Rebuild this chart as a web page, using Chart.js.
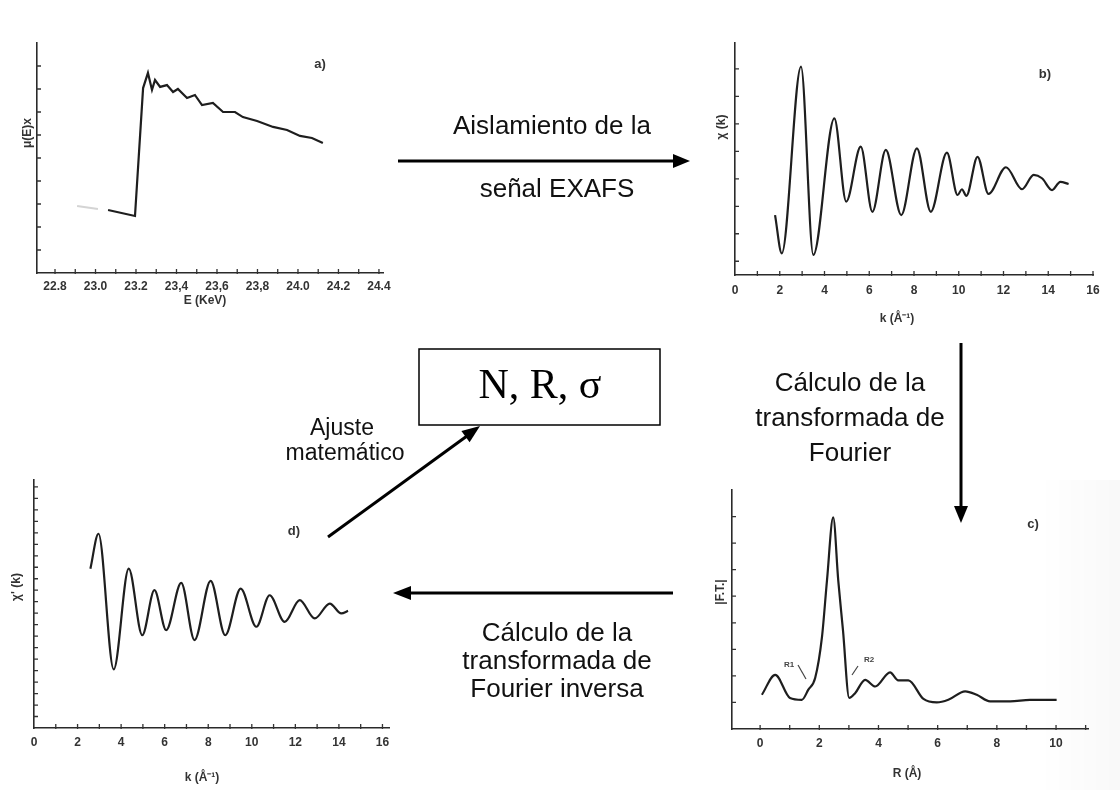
<!DOCTYPE html>
<html>
<head>
<meta charset="utf-8">
<script src="https://cdn.jsdelivr.net/npm/chart.js@4.4.0/dist/chart.umd.min.js"></script>
<style>
  body { margin: 0; background: #fff; }
  #page { position: relative; width: 1120px; height: 790px; overflow: hidden; background: #fff; }
  canvas.panel { position: absolute; filter: blur(0.4px); }
  svg { position: absolute; left: 0; top: 0; }
  .lbl { font-family: "Liberation Sans", Arial, sans-serif; font-size: 26px; fill: #111; }
  .small { font-size: 23px; }
  .box { font-family: "Liberation Serif", "Times New Roman", serif; font-size: 42px; fill: #000; }
  .axt { font-family: "Liberation Sans", Arial, sans-serif; font-size: 12px; font-weight: bold; fill: #333; }
  .tag { font-family: "Liberation Sans", Arial, sans-serif; font-size: 13px; font-weight: bold; fill: #333; }
  .mini { font-family: "Liberation Sans", Arial, sans-serif; font-size: 8px; font-weight: bold; fill: #444; }
</style>
</head>
<body>
<div id="page">
  <canvas id="chartA" class="panel" width="400" height="290" style="left:0;top:30px"></canvas>
  <canvas id="chartB" class="panel" width="420" height="300" style="left:700px;top:30px"></canvas>
  <canvas id="chartC" class="panel" width="420" height="300" style="left:700px;top:470px"></canvas>
  <canvas id="chartD" class="panel" width="400" height="310" style="left:0;top:460px"></canvas>

  <svg width="1120" height="790">
    <defs>
      <linearGradient id="shade" x1="0" x2="1" y1="0" y2="0">
        <stop offset="0" stop-color="#000" stop-opacity="0"/>
        <stop offset="1" stop-color="#000" stop-opacity="0.025"/>
      </linearGradient>
    </defs>
    <rect x="1040" y="480" width="80" height="310" fill="url(#shade)"/>

    <!-- flow arrows -->
    <g stroke="#000" stroke-width="3" fill="none">
      <line x1="398" y1="161" x2="676" y2="161"/>
      <line x1="961" y1="343" x2="961" y2="508"/>
      <line x1="673" y1="593" x2="409" y2="593"/>
      <line x1="328" y1="537" x2="467" y2="436"/>
    </g>
    <g fill="#000">
      <polygon points="690,161 673,154 673,168"/>
      <polygon points="961,523 954,506 968,506"/>
      <polygon points="393,593 411,586 411,600"/>
      <polygon points="480,426 469.6,442.3 461.4,431.0"/>
    </g>

    <rect x="419" y="349" width="241" height="76" fill="none" stroke="#000" stroke-width="1.5"/>
    <text class="box" x="540" y="398" text-anchor="middle">N, R, σ</text>

    <text class="lbl" x="552" y="134" text-anchor="middle">Aislamiento de la</text>
    <text class="lbl" x="557" y="197" text-anchor="middle">señal EXAFS</text>

    <text class="lbl" x="850" y="391" text-anchor="middle">Cálculo de la</text>
    <text class="lbl" x="850" y="426" text-anchor="middle">transformada de</text>
    <text class="lbl" x="850" y="461" text-anchor="middle">Fourier</text>

    <text class="lbl" x="557" y="641" text-anchor="middle">Cálculo de la</text>
    <text class="lbl" x="557" y="669" text-anchor="middle">transformada de</text>
    <text class="lbl" x="557" y="697" text-anchor="middle">Fourier inversa</text>

    <text class="lbl small" x="342" y="435" text-anchor="middle">Ajuste</text>
    <text class="lbl small" x="345" y="460" text-anchor="middle">matemático</text>

    <!-- panel tags -->
    <text class="tag" x="320" y="68" text-anchor="middle">a)</text>
    <text class="tag" x="1045" y="78" text-anchor="middle">b)</text>
    <text class="tag" x="1033" y="528" text-anchor="middle">c)</text>
    <text class="tag" x="294" y="535" text-anchor="middle">d)</text>

    <!-- axis titles -->
    <text class="axt" x="205" y="304" text-anchor="middle">E (KeV)</text>
    <text class="axt" transform="translate(27,133) rotate(-90)" text-anchor="middle" dominant-baseline="central">μ(E)x</text>
    <text class="axt" x="897" y="322" text-anchor="middle">k (Å⁻¹)</text>
    <text class="axt" transform="translate(721,127) rotate(-90)" text-anchor="middle" dominant-baseline="central">χ (k)</text>
    <text class="axt" x="907" y="777" text-anchor="middle">R (Å)</text>
    <text class="axt" transform="translate(720,592) rotate(-90)" text-anchor="middle" dominant-baseline="central">|F.T.|</text>
    <text class="axt" x="202" y="781" text-anchor="middle">k (Å⁻¹)</text>
    <text class="axt" transform="translate(16,587) rotate(-90)" text-anchor="middle" dominant-baseline="central">χ' (k)</text>

    <!-- shell marks on the FT -->
    <text class="mini" x="789" y="667" text-anchor="middle">R1</text>
    <text class="mini" x="869" y="662" text-anchor="middle">R2</text>
    <g stroke="#444" stroke-width="1.2">
      <line x1="798" y1="665" x2="806" y2="679"/>
      <line x1="858" y1="666" x2="852" y2="675"/>
    </g>
  </svg>
</div>

<script>
// a) absorption spectrum
const aPreEnergy = [22.909, 23.012];
const aPreMu = [2.91, 2.78];
const aEnergy = [23.062, 23.195, 23.235, 23.259, 23.279, 23.294, 23.319, 23.353, 23.383, 23.407,
                 23.452, 23.491, 23.526, 23.580, 23.630, 23.689, 23.728, 23.798, 23.877, 23.946,
                 24.010, 24.069, 24.123];
const aMu = [2.74, 2.48, 8.04, 8.70, 7.96, 8.39, 8.09, 8.17, 7.87, 8.00,
             7.61, 7.74, 7.30, 7.39, 7.00, 7.00, 6.78, 6.61, 6.35, 6.22,
             5.96, 5.87, 5.65];
const aTickValues = [22.8, 23.0, 23.2, 23.4, 23.6, 23.8, 24.0, 24.2, 24.4];
const aTickLabels = ['22.8', '23.0', '23.2', '23,4', '23,6', '23,8', '24.0', '24.2', '24.4'];

// b) EXAFS signal
const bK = [1.79, 2.09, 2.95, 3.50, 4.44, 4.97, 5.62, 6.14, 6.74, 7.43,
            8.13, 8.75, 9.47, 9.95, 10.14, 10.34, 10.84, 11.33, 12.11, 12.83,
            13.35, 13.72, 14.17, 14.54, 14.91];
const bChi = [2.18, 0.79, 7.58, 0.73, 5.70, 2.67, 4.67, 2.30, 4.55, 2.18,
              4.61, 2.30, 4.45, 2.91, 3.12, 2.88, 4.30, 2.95, 3.92, 3.12,
              3.64, 3.52, 3.09, 3.39, 3.31];
const kTickValues = [0, 2, 4, 6, 8, 10, 12, 14, 16];
const kTickLabels = ['0', '2', '4', '6', '8', '10', '12', '14', '16'];

// c) Fourier transform modulus
const cR = [0.06, 0.51, 1.01, 1.41, 1.63, 1.86, 2.09, 2.26, 2.47, 2.64,
            2.80, 3.01, 3.21, 3.55, 3.89, 4.39, 4.67, 5.01, 5.52, 5.97,
            6.36, 6.93, 7.32, 7.77, 8.45, 9.12, 10.02];
const cFt = [1.29, 2.04, 1.17, 1.10, 1.48, 1.92, 3.46, 5.60, 7.97, 5.60,
             3.72, 1.17, 1.35, 1.85, 1.60, 2.13, 1.83, 1.83, 1.13, 1.00,
             1.10, 1.42, 1.29, 1.04, 1.04, 1.10, 1.10];
const rTickValues = [0, 2, 4, 6, 8, 10];
const rTickLabels = ['0', '2', '4', '6', '8', '10'];

// d) back-transformed signal
const dK = [2.59, 2.96, 3.66, 4.35, 4.97, 5.53, 6.07, 6.76, 7.37, 8.11,
            8.78, 9.49, 10.21, 10.82, 11.51, 12.20, 12.89, 13.58, 14.11, 14.42];
const dChi = [6.94, 8.46, 2.55, 6.94, 4.04, 6.00, 4.26, 6.32, 3.83, 6.41,
              4.04, 6.07, 4.41, 5.78, 4.62, 5.57, 4.77, 5.42, 4.99, 5.10];

const pts = (xs, ys) => xs.map((x, i) => ({ x: x, y: ys[i] }));
const steps = (a, b, s) => Array.from({ length: Math.round((b - a) / s) + 1 }, (_, i) => +(a + i * s).toFixed(3));

// short tick marks drawn on the inner side of both axes
const innerTicks = {
  id: 'innerTicks',
  afterDraw(chart, args, opts) {
    const { ctx, chartArea, scales } = chart;
    const len = opts.len || 4;
    ctx.save();
    ctx.strokeStyle = '#333';
    ctx.lineWidth = 1.3;
    ctx.beginPath();
    (opts.x || []).forEach(v => {
      const px = scales.x.getPixelForValue(v);
      ctx.moveTo(px, chartArea.bottom + 1);
      ctx.lineTo(px, chartArea.bottom - len);
    });
    (opts.y || []).forEach(v => {
      const py = scales.y.getPixelForValue(v);
      ctx.moveTo(chartArea.left - 1, py);
      ctx.lineTo(chartArea.left + len, py);
    });
    ctx.stroke();
    ctx.restore();
  }
};

const tickFont = { family: '"Liberation Sans", Arial, sans-serif', size: 12, weight: 'bold' };

function panel(id, box, xs, ys, datasets, marks) {
  return new Chart(document.getElementById(id), {
    type: 'line',
    data: { datasets: datasets },
    plugins: [innerTicks],
    options: {
      responsive: false,
      animation: false,
      layout: { padding: { top: box.padTop, right: box.padRight, bottom: 0, left: 0 } },
      plugins: { legend: { display: false }, tooltip: { enabled: false }, innerTicks: marks },
      elements: { point: { radius: 0 } },
      scales: {
        x: {
          type: 'linear',
          min: xs.min,
          max: xs.max,
          afterBuildTicks: s => { s.ticks = xs.values.map(v => ({ value: v })); },
          afterFit: s => { s.height = box.axisH; },
          ticks: {
            callback: (v, i) => xs.labels[i],
            font: tickFont,
            color: '#333',
            padding: box.labelPad,
            maxRotation: 0,
            autoSkip: false
          },
          grid: { display: false, drawTicks: false },
          border: { display: true, color: '#2a2a2a', width: 1.6 }
        },
        y: {
          type: 'linear',
          min: ys.min,
          max: ys.max,
          afterFit: s => { s.width = box.axisW; },
          ticks: { display: false },
          grid: { display: false, drawTicks: false },
          border: { display: true, color: '#2a2a2a', width: 1.6 }
        }
      }
    }
  });
}

const curve = (data, smooth) => ({
  data: data,
  borderColor: '#1e1e1e',
  borderWidth: 2.2,
  fill: false,
  cubicInterpolationMode: smooth ? 'monotone' : 'default',
  tension: 0
});

panel('chartA',
  { padTop: 13, padRight: 17, axisW: 37, axisH: 47, labelPad: 6 },
  { min: 22.711, max: 24.42, values: aTickValues, labels: aTickLabels },
  { min: 0, max: 10 },
  [
    { data: pts(aPreEnergy, aPreMu), borderColor: '#d4d4d4', borderWidth: 2, fill: false },
    curve(pts(aEnergy, aMu), false)
  ],
  { x: steps(22.8, 24.4, 0.1), y: steps(1, 9, 1), len: 4 }
);

panel('chartB',
  { padTop: 13, padRight: 27, axisW: 35, axisH: 55, labelPad: 8 },
  { min: 0, max: 16, values: kTickValues, labels: kTickLabels },
  { min: 0, max: 8.44 },
  [curve(pts(bK, bChi), true)],
  { x: steps(1, 16, 1), y: steps(0.5, 7.5, 1), len: 4 }
);

panel('chartC',
  { padTop: 20, padRight: 32, axisW: 32, axisH: 41, labelPad: 7 },
  { min: -0.95, max: 11.08, values: rTickValues, labels: rTickLabels },
  { min: 0, max: 9 },
  [curve(pts(cR, cFt), true)],
  { x: steps(0, 11, 1), y: steps(1, 8, 1), len: 4 }
);

panel('chartD',
  { padTop: 20, padRight: 11, axisW: 34, axisH: 42, labelPad: 7 },
  { min: 0, max: 16.3, values: kTickValues, labels: kTickLabels },
  { min: 0, max: 10.8 },
  [curve(pts(dK, dChi), true)],
  { x: steps(1, 16, 1), y: steps(0.5, 10.5, 0.5), len: 4 }
);
</script>
</body>
</html>
